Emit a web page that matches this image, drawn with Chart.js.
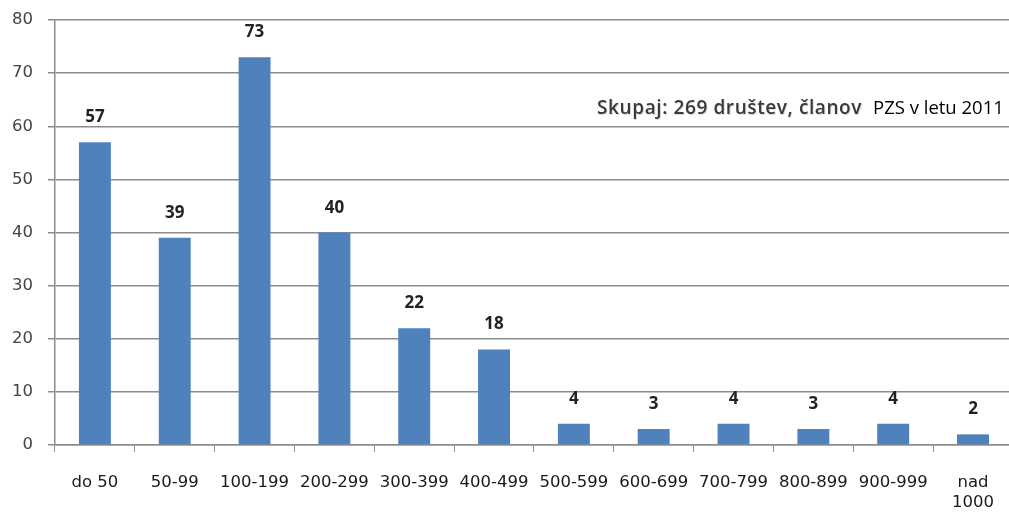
<!DOCTYPE html>
<html>
<head>
<meta charset="utf-8">
<script src="https://cdn.jsdelivr.net/npm/chart.js@4.4.1/dist/chart.umd.min.js"></script>
<style>
  html, body { margin: 0; padding: 0; background: #fff; overflow: hidden; }
  #wrap { width: 1015px; height: 513px; }
</style>
</head>
<body>
<div id="wrap"><canvas id="c" width="1015" height="513"></canvas></div>
<script>
const categories = ['do 50', '50-99', '100-199', '200-299', '300-399', '400-499',
  '500-599', '600-699', '700-799', '800-899', '900-999', ['nad', '1000']];
const counts = [57, 39, 73, 40, 22, 18, 4, 3, 4, 3, 4, 2];
const yTicks = [0, 10, 20, 30, 40, 50, 60, 70, 80];
const noteBold = 'Skupaj: 269 društev, članov';
const notePlain = 'PZS v letu 2011';

// value labels above bars
const valueLabels = {
  id: 'valueLabels',
  afterDatasetsDraw(chart) {
    const ctx = chart.ctx;
    const meta = chart.getDatasetMeta(0);
    ctx.save();
    ctx.font = 'bold 17px "Open Sans"';
    ctx.fillStyle = '#222';
    ctx.textAlign = 'center';
    ctx.textBaseline = 'alphabetic';
    meta.data.forEach((bar, i) => {
      ctx.fillText(counts[i], bar.x, bar.y - 20);
    });
    ctx.restore();
  }
};

// total note in upper right
const notePlugin = {
  id: 'note',
  afterDraw(chart) {
    const ctx = chart.ctx;
    ctx.save();
    ctx.fillStyle = '#fff';
    ctx.fillRect(870, 94, 150, 30);
    ctx.textBaseline = 'alphabetic';
    ctx.font = '600 19px "Open Sans"';
    ctx.letterSpacing = '0.6px';
    ctx.fillStyle = 'rgba(0,0,0,0.15)';
    ctx.fillText(noteBold, 598, 115);
    ctx.fillStyle = '#3a3a3a';
    ctx.fillText(noteBold, 597, 114);
    ctx.letterSpacing = '0px';
    ctx.font = '18.5px "Open Sans"';
    ctx.fillStyle = '#000';
    ctx.fillText(notePlain, 873, 114);
    ctx.restore();
  }
};

new Chart(document.getElementById('c'), {
  type: 'bar',
  data: {
    labels: categories,
    datasets: [{
      data: counts,
      backgroundColor: '#4f81bd',
      barPercentage: 0.8,
      categoryPercentage: 0.5
    }]
  },
  options: {
    responsive: false,
    animation: false,
    layout: { autoPadding: false, padding: { top: 20, right: 0, left: 0, bottom: 0 } },
    plugins: { legend: { display: false }, tooltip: { enabled: false } },
    scales: {
      x: {
        offset: true,
        grid: { offset: true, drawOnChartArea: false, drawTicks: true, tickLength: 7, color: '#8c8c8c' },
        border: { color: '#8c8c8c', width: 1.5 },
        ticks: { color: '#1a1a1a', font: { family: 'DejaVu Sans', size: 16.5 }, padding: 21, maxRotation: 0, autoSkip: false },
        afterFit(scale) { scale.height = 68; }
      },
      y: {
        min: 0, max: 80,
        afterBuildTicks(scale) { scale.ticks = yTicks.map(v => ({ value: v })); },
        grid: { color: '#8c8c8c', lineWidth: 1.5, tickLength: 7 },
        border: { color: '#8c8c8c', width: 1.5 },
        ticks: { color: '#444', font: { family: 'DejaVu Sans', size: 16.5 }, padding: 15 },
        afterFit(scale) {
          scale.width = 55;
          scale.paddingTop = 0;
          scale.paddingBottom = 0;
        }
      }
    }
  },
  plugins: [valueLabels, notePlugin]
});
</script>
</body>
</html>
